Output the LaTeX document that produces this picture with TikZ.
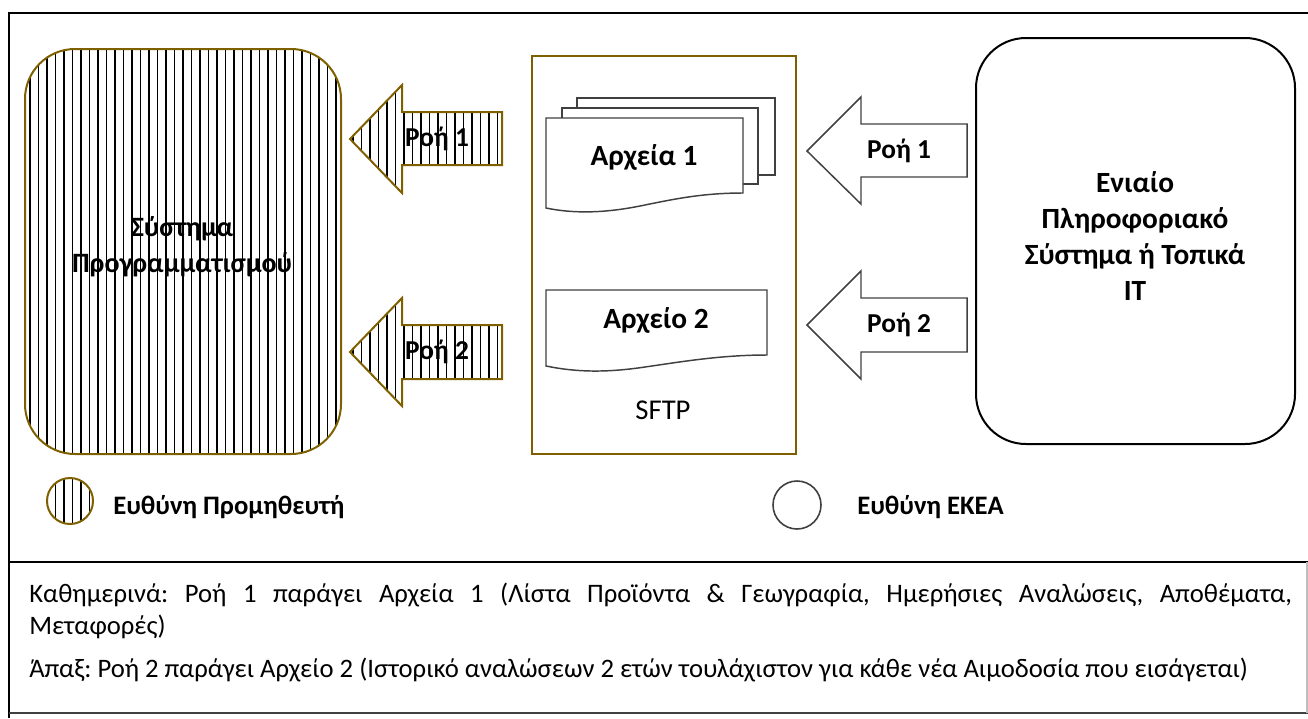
\documentclass[tikz,border=0pt]{standalone}
\usepackage{fontspec}
\setmainfont{Carlito}
\frenchspacing
\definecolor{gold}{HTML}{7F6000}
\definecolor{dgray}{HTML}{404040}
\definecolor{lgray}{HTML}{BFBFBF}
\newcommand{\hatchlines}{\foreach \hx in {4.3,12.8,...,1300}{\draw[hatchline] (\hx,0) -- (\hx,718);}}
\begin{document}
\begin{tikzpicture}[x=0.75pt,y=-0.75pt,
  goldline/.style={draw=gold, line width=1.5pt},
  grayline/.style={draw=dgray, line width=1.1pt},
  hatchline/.style={draw=black, line width=1.15pt},
  lbl/.style={font=\fontsize{21.5}{27}\selectfont\bfseries, inner sep=0pt, align=center},
  flow/.style={font=\fontsize{20.5}{27}\selectfont\bfseries, inner sep=0pt},
  reg/.style={font=\fontsize{21.5}{27}\selectfont, inner sep=0pt},
  body/.style={font=\fontsize{20}{24}\selectfont, inner sep=0pt},
  docshape/.style={grayline, fill=white}]
\useasboundingbox (0,0) rectangle (1308,718);
% frame
\draw[line width=1.5pt] (1308,13) -- (9,13) -- (9,718);
\draw[line width=1pt] (9,562) -- (1308,562);
\draw[line width=0.9pt, draw=dgray] (9,713) -- (1308,713);
\draw[line width=0.8pt, draw=lgray] (1307,562) -- (1307,713);

% left system box (hatched)
\begin{scope}
  \clip[rounded corners=37.5pt] (25,49) rectangle (341,454);
  \hatchlines
\end{scope}
\draw[goldline, rounded corners=37.5pt] (25,49) rectangle (341,454);
\node[lbl, font=\fontsize{21}{27}\selectfont\bfseries] (sys) at (182,247) {Σύστημα\\Προγραμματισμού};

% left arrows (hatched)
\begin{scope}
  \clip (350,139) -- (402,85) -- (402,112) -- (502,112) -- (502,165) -- (402,165) -- (402,193) -- cycle;
  \hatchlines
\end{scope}
\draw[goldline, line join=miter] (350,139) -- (402,85) -- (402,112) -- (502,112) -- (502,165) -- (402,165) -- (402,193) -- cycle;
\node[flow] (la1) at (437,139) {Ροή 1};
\begin{scope}
  \clip (350,352) -- (402,298) -- (402,325) -- (502,325) -- (502,379) -- (402,379) -- (402,406) -- cycle;
  \hatchlines
\end{scope}
\draw[goldline, line join=miter] (350,352) -- (402,298) -- (402,325) -- (502,325) -- (502,379) -- (402,379) -- (402,406) -- cycle;
\node[flow] (la2) at (437,352) {Ροή 2};

% SFTP box
\draw[draw=gold, line width=1.2pt] (532,56) rectangle (796,454);
\draw[docshape] (577,98) rectangle (775,175);
\draw[docshape] (562,108) rectangle (758,184);
\draw[docshape] (546,118) -- (743,118) -- (743,193) .. controls (700,193) and (670,200) .. (640,206) .. controls (600,214) and (570,213) .. (546,208) -- cycle;
\node[lbl, font=\fontsize{22}{27}\selectfont\bfseries] (f1) at (644,157) {Αρχεία 1};
\draw[docshape] (546,290) -- (767,290) -- (767,355) .. controls (720,355) and (680,362) .. (645,367) .. controls (605,373) and (575,372) .. (546,366) -- cycle;
\node[lbl, font=\fontsize{22}{27}\selectfont\bfseries] (f2) at (656,320) {Αρχείο 2};
\node[reg] (sftp) at (663,410) {SFTP};

% right arrows
\draw[grayline, line join=miter] (807,151) -- (861,97) -- (861,124) -- (967,124) -- (967,177) -- (861,177) -- (861,204) -- cycle;
\node[flow] (ra1) at (899,151) {Ροή 1};
\draw[grayline, line join=miter] (807,325) -- (861,271) -- (861,298) -- (967,298) -- (967,352) -- (861,352) -- (861,379) -- cycle;
\node[flow] (ra2) at (899,325) {Ροή 2};

% right box
\draw[line width=1.5pt, rounded corners=37.5pt] (976,38) rectangle (1295,444);
\node[lbl, font=\fontsize{22}{27}\selectfont\bfseries] (eis) at (1135,236) {Ενιαίο\\Πληροφοριακό\\Σύστημα ή Τοπικά\\IT};

% legend
\begin{scope}
  \clip (70,501) circle[radius=23];
  \hatchlines
\end{scope}
\draw[goldline] (70,501) circle[radius=23];
\node[lbl, font=\fontsize{20}{27}\selectfont\bfseries, anchor=base west] (leg1) at (113,514) {Ευθύνη Προμηθευτή};
\draw[draw=dgray, line width=1.2pt] (797,505) circle[radius=24];
\node[lbl, font=\fontsize{20}{27}\selectfont\bfseries, anchor=base west] (leg2) at (857,514) {Ευθύνη ΕΚΕΑ};

% notes
\node[body, anchor=north west, text width=947pt, align=justify] (n1) at (29,583) {Καθημερινά: Ροή 1 παράγει Αρχεία 1 (Λίστα Προϊόντα \& Γεωγραφία, Ημερήσιες Αναλώσεις, Αποθέματα,\linebreak Μεταφορές)};
\node[body, anchor=base west] (n2) at (29,677) {Άπαξ: Ροή 2 παράγει Αρχείο 2 (Ιστορικό αναλώσεων 2 ετών τουλάχιστον για κάθε νέα Αιμοδοσία που εισάγεται)};
\end{tikzpicture}
\end{document}
